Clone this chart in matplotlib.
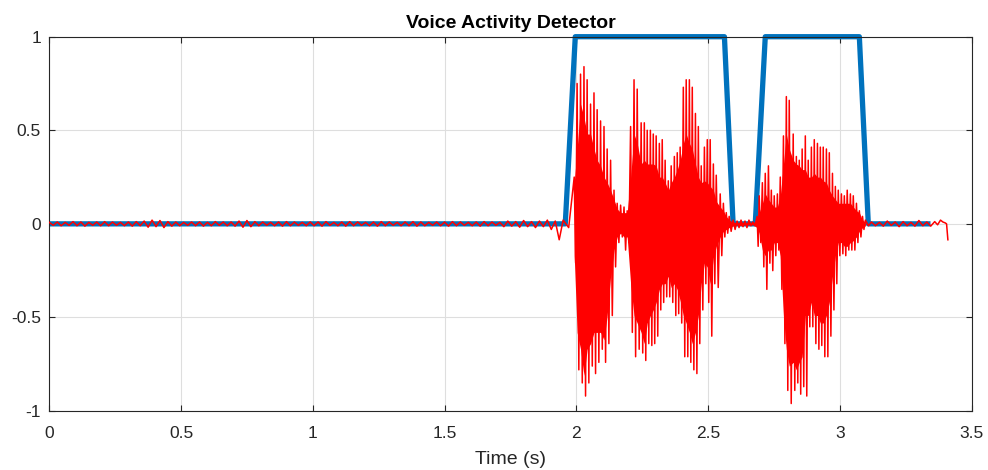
import numpy as np
import matplotlib.pyplot as plt

plt.rcParams['font.family'] = ['Liberation Sans', 'DejaVu Sans']
plt.rcParams['axes.unicode_minus'] = False

# VAD decision (0 = silence, 1 = speech)
vad_time = [0.0, 1.958, 1.996, 2.562, 2.595, 2.679, 2.717, 3.074, 3.108, 3.344]
vad_flag = [0, 0, 1, 1, 0, 0, 1, 1, 0, 0]

# leading silence, one noise peak / trough every 0.03 s
lead_hi = [0.008, 0.010, 0.008, 0.012, 0.010, 0.008, 0.010, 0.012, 0.010, 0.008,
           0.010, 0.012, 0.015, 0.020, 0.018, 0.012, 0.010, 0.008, 0.010, 0.010,
           0.008, 0.012, 0.010, 0.010, 0.015, 0.018, 0.012, 0.010, 0.008, 0.010,
           0.012, 0.010, 0.008, 0.010, 0.010, 0.012, 0.008, 0.010, 0.012, 0.010,
           0.008, 0.010, 0.012, 0.010, 0.008, 0.010, 0.012, 0.010, 0.008, 0.010,
           0.010, 0.012, 0.010, 0.008, 0.010, 0.012, 0.010, 0.008, 0.015, 0.012,
           0.018, 0.012, 0.015, 0.020, 0.015, 0.020]
lead_lo = [-0.008, -0.010, -0.008, -0.010, -0.012, -0.008, -0.010, -0.010, -0.008, -0.010,
           -0.012, -0.010, -0.018, -0.015, -0.020, -0.012, -0.010, -0.008, -0.010, -0.012,
           -0.010, -0.008, -0.010, -0.012, -0.018, -0.015, -0.010, -0.008, -0.010, -0.012,
           -0.010, -0.008, -0.010, -0.010, -0.012, -0.008, -0.010, -0.012, -0.010, -0.008,
           -0.010, -0.012, -0.010, -0.008, -0.010, -0.010, -0.012, -0.010, -0.008, -0.010,
           -0.012, -0.010, -0.008, -0.010, -0.012, -0.010, -0.008, -0.015, -0.012, -0.018,
           -0.015, -0.020, -0.015, -0.030, -0.085, -0.020]
lead_time = np.arange(len(lead_hi)) * 0.03

# speech: spike tips (hi/lo) and the solid core (core_hi/core_lo)
speech_time = [1.992, 2.003, 2.016, 2.029, 2.041, 2.054, 2.067, 2.079, 2.092, 2.105,
               2.117, 2.130, 2.143, 2.155, 2.168, 2.181, 2.193, 2.206, 2.219, 2.231,
               2.246, 2.258, 2.269, 2.281, 2.292, 2.303, 2.315, 2.326, 2.337, 2.349,
               2.360, 2.372, 2.383, 2.394, 2.406, 2.417, 2.429, 2.440, 2.452, 2.463,
               2.474, 2.486, 2.497, 2.508, 2.520, 2.531, 2.546, 2.558, 2.569, 2.580,
               2.595, 2.610, 2.625, 2.640, 2.655, 2.670, 2.686, 2.694, 2.706, 2.717,
               2.729, 2.740, 2.751, 2.763, 2.774, 2.786, 2.797, 2.808, 2.823, 2.835,
               2.846, 2.857, 2.869, 2.880, 2.892, 2.903, 2.915, 2.926, 2.937, 2.949,
               2.960, 2.972, 2.983, 2.994, 3.006, 3.017, 3.028, 3.040, 3.051, 3.063,
               3.074, 3.086, 3.097]
speech_hi = [0.25, 0.75, 0.80, 0.84, 0.77, 0.64, 0.70, 0.61, 0.55, 0.52,
             0.40, 0.34, 0.18, 0.11, 0.10, 0.09, 0.07, 0.52, 0.77, 0.72,
             0.54, 0.54, 0.50, 0.50, 0.48, 0.47, 0.43, 0.45, 0.34, 0.23,
             0.31, 0.36, 0.38, 0.41, 0.73, 0.77, 0.77, 0.73, 0.59, 0.52,
             0.31, 0.41, 0.45, 0.45, 0.32, 0.26, 0.16, 0.11, 0.06, 0.04,
             0.02, 0.015, 0.02, 0.015, 0.02, 0.01, 0.04, 0.15, 0.22, 0.27,
             0.31, 0.18, 0.15, 0.16, 0.25, 0.47, 0.68, 0.66, 0.48, 0.36,
             0.34, 0.40, 0.47, 0.34, 0.41, 0.45, 0.43, 0.41, 0.41, 0.40,
             0.38, 0.27, 0.20, 0.18, 0.16, 0.15, 0.18, 0.16, 0.15, 0.11,
             0.07, 0.04, 0.02]
speech_core_hi = [0.22, 0.40, 0.64, 0.57, 0.48, 0.48, 0.40, 0.34, 0.31, 0.25,
                  0.22, 0.18, 0.13, 0.08, 0.06, 0.06, 0.06, 0.25, 0.48, 0.43,
                  0.32, 0.34, 0.32, 0.32, 0.32, 0.31, 0.25, 0.25, 0.22, 0.18,
                  0.22, 0.25, 0.29, 0.34, 0.43, 0.48, 0.43, 0.40, 0.32, 0.25,
                  0.22, 0.23, 0.22, 0.20, 0.18, 0.12, 0.09, 0.07, 0.04, 0.02,
                  0.01, 0.005, 0.01, 0.005, 0.01, 0.005, 0.02, 0.06, 0.11, 0.16,
                  0.13, 0.11, 0.09, 0.09, 0.15, 0.32, 0.48, 0.40, 0.34, 0.32,
                  0.31, 0.29, 0.29, 0.25, 0.25, 0.27, 0.25, 0.25, 0.23, 0.22,
                  0.18, 0.15, 0.13, 0.11, 0.11, 0.11, 0.11, 0.11, 0.09, 0.07,
                  0.06, 0.02, 0.01]
speech_core_lo = [-0.17, -0.58, -0.67, -0.81, -0.67, -0.64, -0.58, -0.58, -0.58, -0.62,
                  -0.49, -0.28, -0.14, -0.07, -0.05, -0.07, -0.07, -0.32, -0.49, -0.53,
                  -0.58, -0.64, -0.53, -0.49, -0.46, -0.42, -0.35, -0.32, -0.32, -0.28,
                  -0.34, -0.32, -0.35, -0.41, -0.49, -0.53, -0.58, -0.64, -0.58, -0.49,
                  -0.32, -0.21, -0.23, -0.32, -0.18, -0.12, -0.07, -0.04, -0.03, -0.02,
                  -0.01, -0.005, -0.01, -0.005, -0.005, -0.005, -0.02, -0.05, -0.14, -0.17,
                  -0.14, -0.14, -0.10, -0.10, -0.17, -0.49, -0.67, -0.76, -0.74, -0.78,
                  -0.74, -0.71, -0.49, -0.49, -0.42, -0.49, -0.49, -0.53, -0.53, -0.49,
                  -0.42, -0.28, -0.17, -0.10, -0.10, -0.12, -0.12, -0.10, -0.09, -0.07,
                  -0.04, -0.02, -0.01]
speech_lo = [-0.21, -0.78, -0.85, -0.92, -0.85, -0.76, -0.80, -0.74, -0.67, -0.74,
             -0.64, -0.49, -0.23, -0.10, -0.07, -0.14, -0.10, -0.58, -0.71, -0.67,
             -0.69, -0.73, -0.64, -0.65, -0.64, -0.60, -0.46, -0.42, -0.39, -0.39,
             -0.42, -0.49, -0.48, -0.53, -0.71, -0.71, -0.74, -0.78, -0.80, -0.64,
             -0.46, -0.32, -0.42, -0.60, -0.32, -0.34, -0.17, -0.07, -0.05, -0.04,
             -0.03, -0.02, -0.015, -0.02, -0.01, -0.01, -0.12, -0.10, -0.23, -0.35,
             -0.21, -0.25, -0.17, -0.14, -0.35, -0.64, -0.89, -0.96, -0.89, -0.85,
             -0.91, -0.87, -0.92, -0.55, -0.55, -0.64, -0.67, -0.65, -0.71, -0.71,
             -0.60, -0.46, -0.32, -0.17, -0.16, -0.17, -0.14, -0.14, -0.14, -0.10,
             -0.07, -0.03, -0.01]

# trailing silence
tail_time = [3.12, 3.15, 3.18, 3.21, 3.24, 3.27, 3.30, 3.33, 3.36, 3.382, 3.40, 3.41]
tail_hi = [0.010, 0.008, 0.015, 0.010, 0.012, 0.008, 0.018, 0.010, 0.012, 0.020, 0.005, -0.085]
tail_lo = [-0.010, -0.012, -0.008, -0.015, -0.010, -0.012, -0.010, -0.012, -0.005, 0.010, 0.0, -0.085]

t = np.concatenate([lead_time, speech_time, tail_time])
hi = np.concatenate([lead_hi, speech_hi, tail_hi])
lo = np.concatenate([lead_lo, speech_lo, tail_lo])

# waveform trace: peak at each sample, trough half way to the next one
mid = np.append((t[:-1] + t[1:]) / 2, t[-1])
wave_x = np.column_stack([t, mid]).ravel()
wave_y = np.column_stack([hi, lo]).ravel()

st = np.array(speech_time)
core_hi = np.array(speech_core_hi)
core_lo = np.array(speech_core_lo)

fig = plt.figure(figsize=(9.88, 4.70), dpi=100)
ax = fig.add_axes([0.0499, 0.1255, 0.9335, 0.7964])

ax.plot(vad_time, vad_flag, color='#0072BD', lw=3.8, solid_joinstyle='round',
        solid_capstyle='butt', clip_on=False, zorder=2)
ax.fill_between(st, core_lo, core_hi, color='red', lw=0, zorder=3)
ax.plot(wave_x, wave_y, color='red', lw=1.1, zorder=4)

ax.set_xlim(0, 3.5)
ax.set_ylim(-1, 1)
ax.set_xticks(np.arange(0, 3.51, 0.5))
ax.set_yticks([-1, -0.5, 0, 0.5, 1])
ax.set_xticklabels(['0', '0.5', '1', '1.5', '2', '2.5', '3', '3.5'])
ax.set_yticklabels(['-1', '-0.5', '0', '0.5', '1'])
ax.grid(True, color='#dedede', lw=0.8)
ax.set_axisbelow(True)
ax.tick_params(direction='in', length=4, width=0.8, top=True, right=True,
               labelsize=12.5, colors='#262626', pad=6)
ax.tick_params(axis='x', pad=11)
for s in ax.spines.values():
    s.set_color('#262626')
    s.set_linewidth(0.8)

ax.set_title('Voice Activity Detector', fontsize=14, fontweight='bold', pad=6)
ax.set_xlabel('Time (s)', fontsize=14, color='#262626', labelpad=7)

fig.savefig('out.png', dpi=100)
